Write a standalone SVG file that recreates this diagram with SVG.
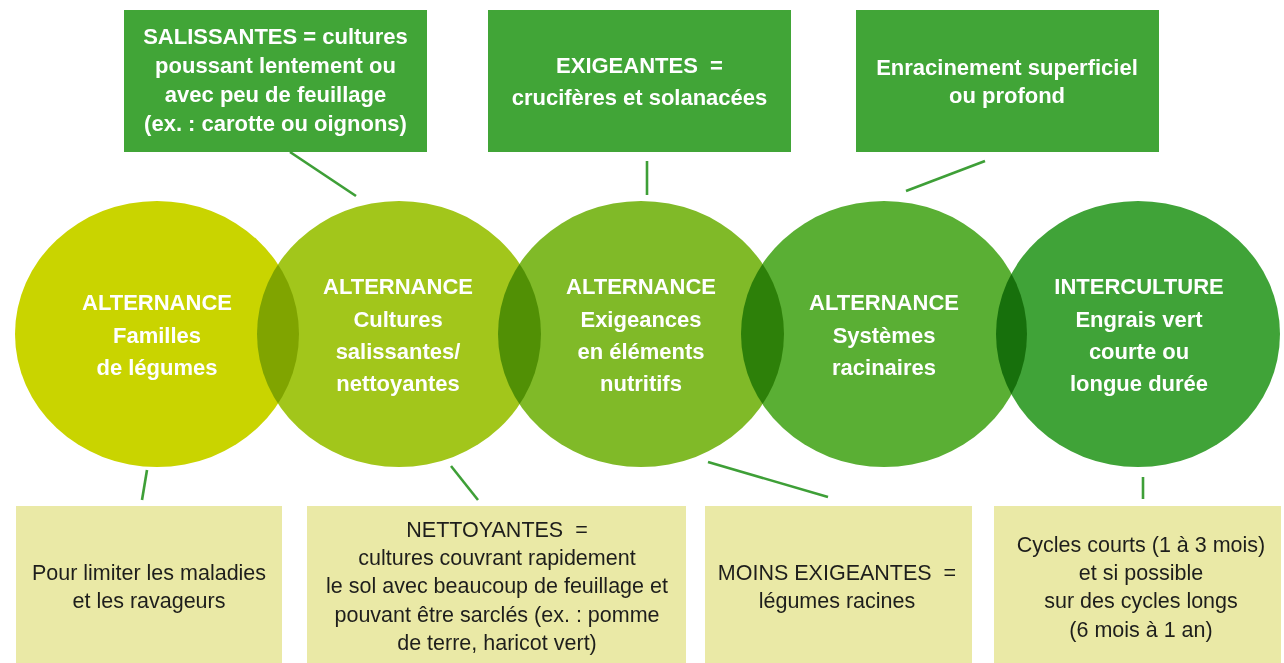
<svg xmlns="http://www.w3.org/2000/svg" width="1284" height="663" viewBox="0 0 1284 663">
<style>
.c{mix-blend-mode:multiply}
.ct{font-family:"Liberation Sans",Arial,sans-serif;font-weight:bold;font-size:22px;fill:#fff;text-anchor:middle}
.tb{fill:#41A537}
.bb{fill:#EAE9A6}
.bt{font-family:"Liberation Sans",Arial,sans-serif;font-size:21.5px;fill:#1e1e1c;text-anchor:middle}
.ln{stroke:#3E9F37;stroke-width:2.6;fill:none}
</style>
<rect width="1284" height="663" fill="#fff"/>
<g id="circles">
<g id="c1"><ellipse class="c" cx="157" cy="334" rx="142" ry="133" fill="#C9D400"/></g>
<g id="c2"><ellipse class="c" cx="399" cy="334" rx="142" ry="133" fill="#A2C61B"/></g>
<g id="c3"><ellipse class="c" cx="641" cy="334" rx="143" ry="133" fill="#80BA28"/></g>
<g id="c4"><ellipse class="c" cx="884" cy="334" rx="143" ry="133" fill="#5AAF34"/></g>
<g id="c5"><ellipse class="c" cx="1138" cy="334" rx="142" ry="133" fill="#40A338"/></g>
</g>
<g id="circle-labels">
<text class="ct" x="157"><tspan x="157" y="310">ALTERNANCE</tspan><tspan x="157" y="343">Familles</tspan><tspan x="157" y="375">de légumes</tspan></text>
<text class="ct"><tspan x="398" y="294">ALTERNANCE</tspan><tspan x="398" y="327">Cultures</tspan><tspan x="398" y="359">salissantes/</tspan><tspan x="398" y="391">nettoyantes</tspan></text>
<text class="ct"><tspan x="641" y="294">ALTERNANCE</tspan><tspan x="641" y="327">Exigeances</tspan><tspan x="641" y="359">en éléments</tspan><tspan x="641" y="391">nutritifs</tspan></text>
<text class="ct"><tspan x="884" y="310">ALTERNANCE</tspan><tspan x="884" y="343">Systèmes</tspan><tspan x="884" y="375">racinaires</tspan></text>
<text class="ct"><tspan x="1139" y="294">INTERCULTURE</tspan><tspan x="1139" y="327">Engrais vert</tspan><tspan x="1139" y="359">courte ou</tspan><tspan x="1139" y="391">longue durée</tspan></text>
</g>
<g id="top1"><rect class="tb" x="124" y="10" width="303" height="142"/>
<text class="ct"><tspan x="275.5" y="44">SALISSANTES = cultures</tspan><tspan x="275.5" y="73">poussant lentement ou</tspan><tspan x="275.5" y="102">avec peu de feuillage</tspan><tspan x="275.5" y="131">(ex. : carotte ou oignons)</tspan></text></g>
<g id="top2"><rect class="tb" x="488" y="10" width="303" height="142"/>
<text class="ct"><tspan x="639.5" y="73" xml:space="preserve">EXIGEANTES  =</tspan><tspan x="639.5" y="105">crucifères et solanacées</tspan></text></g>
<g id="top3"><rect class="tb" x="856" y="10" width="303" height="142"/>
<text class="ct"><tspan x="1007" y="75">Enracinement superficiel</tspan><tspan x="1007" y="103">ou profond</tspan></text></g>
<g id="bot1"><rect class="bb" x="16" y="506" width="266" height="157"/>
<text class="bt"><tspan x="149" y="580">Pour limiter les maladies</tspan><tspan x="149" y="608">et les ravageurs</tspan></text></g>
<g id="bot2"><rect class="bb" x="307" y="506" width="379" height="157"/>
<text class="bt"><tspan x="497" y="537" xml:space="preserve">NETTOYANTES  =</tspan><tspan x="497" y="565">cultures couvrant rapidement</tspan><tspan x="497" y="593">le sol avec beaucoup de feuillage et</tspan><tspan x="497" y="622">pouvant être sarclés (ex. : pomme</tspan><tspan x="497" y="650">de terre, haricot vert)</tspan></text></g>
<g id="bot3"><rect class="bb" x="705" y="506" width="267" height="157"/>
<text class="bt"><tspan x="837" y="580" xml:space="preserve">MOINS EXIGEANTES  =</tspan><tspan x="837" y="608">légumes racines</tspan></text></g>
<g id="bot4"><rect class="bb" x="994" y="506" width="287" height="157"/>
<text class="bt"><tspan x="1141" y="552">Cycles courts (1 à 3 mois)</tspan><tspan x="1141" y="580">et si possible</tspan><tspan x="1141" y="608">sur des cycles longs</tspan><tspan x="1141" y="637">(6 mois à 1 an)</tspan></text></g>
<g id="connectors">
<line class="ln" x1="290" y1="152" x2="356" y2="196"/>
<line class="ln" x1="647" y1="161" x2="647" y2="195"/>
<line class="ln" x1="985" y1="161" x2="906" y2="191"/>
<line class="ln" x1="147" y1="470" x2="142" y2="500"/>
<line class="ln" x1="451" y1="466" x2="478" y2="500"/>
<line class="ln" x1="708" y1="462" x2="828" y2="497"/>
<line class="ln" x1="1143" y1="477" x2="1143" y2="499"/>
</g>
</svg>
